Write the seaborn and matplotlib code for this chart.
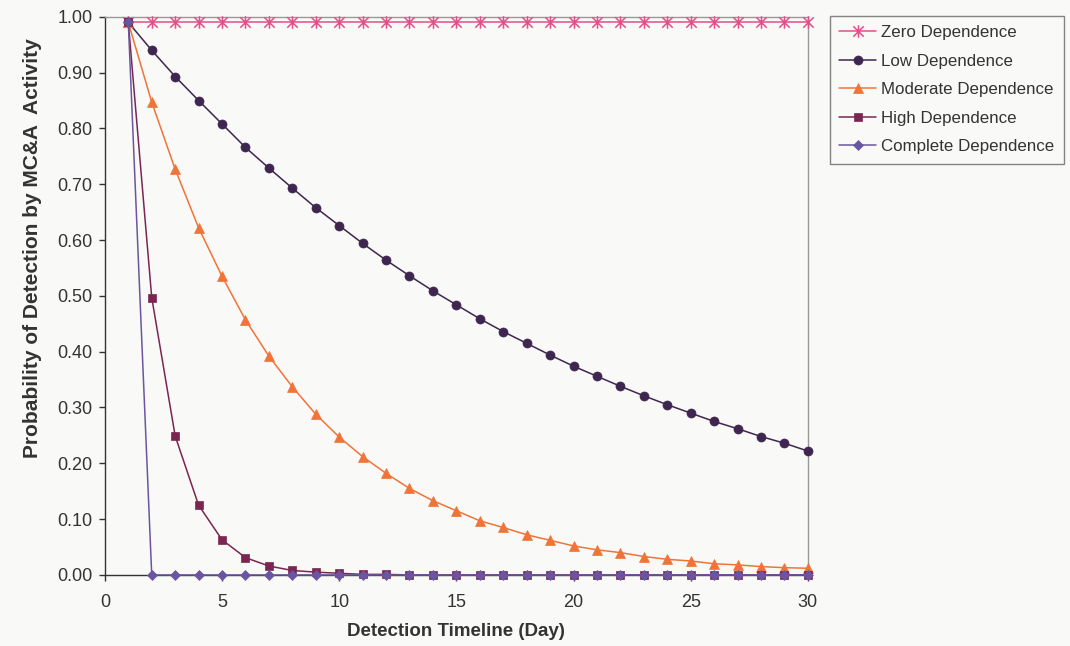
import numpy as np
import pandas as pd
import matplotlib
matplotlib.use("Agg")
import matplotlib.pyplot as plt
from matplotlib.path import Path
import seaborn as sns

days = list(range(1, 31))
zero_dep = [0.99] * 30
low_dep = [0.99, 0.940, 0.893, 0.850, 0.808, 0.766, 0.729, 0.693, 0.658, 0.626,
           0.594, 0.564, 0.536, 0.509, 0.484, 0.459, 0.436, 0.415, 0.394, 0.374,
           0.356, 0.338, 0.321, 0.305, 0.290, 0.275, 0.262, 0.248, 0.236, 0.222]
moderate_dep = [0.99, 0.847, 0.727, 0.622, 0.535, 0.457, 0.392, 0.337, 0.288, 0.247,
                0.212, 0.182, 0.155, 0.133, 0.115, 0.097, 0.085, 0.072, 0.062, 0.052,
                0.045, 0.040, 0.033, 0.028, 0.025, 0.020, 0.018, 0.015, 0.013, 0.012]
high_dep = [0.99, 0.497, 0.249, 0.125, 0.063, 0.031, 0.016, 0.008, 0.005, 0.003,
            0.001, 0.001, 0.0, 0.0, 0.0, 0.0, 0.0, 0.0, 0.0, 0.0,
            0.0, 0.0, 0.0, 0.0, 0.0, 0.0, 0.0, 0.0, 0.0, 0.0]
complete_dep = [0.99] + [0.0] * 29

series_names = ["Zero Dependence", "Low Dependence", "Moderate Dependence",
                "High Dependence", "Complete Dependence"]
series_vals = [zero_dep, low_dep, moderate_dep, high_dep, complete_dep]

x_ticks = [0, 5, 10, 15, 20, 25, 30]
y_ticks = [0.0, 0.1, 0.2, 0.3, 0.4, 0.5, 0.6, 0.7, 0.8, 0.9, 1.0]

sns.set_theme(style="white")
plt.rcParams['font.family'] = ['Liberation Sans', 'DejaVu Sans']

# Excel-like asterisk marker: X plus vertical bar
star = Path([(-1, -1), (1, 1), (-1, 1), (1, -1), (0, -1.2), (0, 1.2)],
            [Path.MOVETO, Path.LINETO, Path.MOVETO, Path.LINETO, Path.MOVETO, Path.LINETO])

styles = [
    dict(color="#e0508a", marker=star, ms=9, mew=1.1),
    dict(color="#3e2650", marker="o", ms=6.5, mew=0.5),
    dict(color="#f07438", marker="^", ms=7.5, mew=0.5),
    dict(color="#7a2650", marker="s", ms=6, mew=0.5),
    dict(color="#6a56a0", marker="D", ms=5, mew=0.5),
]

bg = "#f9f9f7"
fig = plt.figure(figsize=(10.7, 6.46), dpi=100, facecolor=bg)
ax = fig.add_axes([0.098, 0.110, 0.657, 0.864])
ax.set_facecolor(bg)

for name, vals, st in zip(series_names, series_vals, styles):
    df = pd.DataFrame({"day": days, "p": vals})
    sns.lineplot(data=df, x="day", y="p", ax=ax, label=name, color=st["color"],
                 marker=st["marker"], markersize=st["ms"], markeredgewidth=st["mew"],
                 markeredgecolor=st["color"], linewidth=1.1, clip_on=False, zorder=3)

ax.set_xlim(0, 30)
ax.set_ylim(0, 1.0)
ax.set_xticks(x_ticks)
ax.set_xticklabels([str(t) for t in x_ticks])
ax.set_yticks(y_ticks)
ax.set_yticklabels([f"{t:.2f}" for t in y_ticks])
ax.tick_params(axis="both", direction="out", length=4.5, width=1, colors="#333333",
               labelsize=13, labelcolor="#333333", bottom=True, left=True)
ax.tick_params(axis="y", pad=4.5)
ax.tick_params(axis="x", pad=9.5)

for side in ["left", "bottom"]:
    ax.spines[side].set_color("#333333")
    ax.spines[side].set_linewidth(1.0)
for side in ["top", "right"]:
    ax.spines[side].set_color("#999999")
    ax.spines[side].set_linewidth(1.0)

ax.set_xlabel("Detection Timeline (Day)", fontsize=13.5, fontweight="bold",
              color="#333333")
ax.set_ylabel("Probability of Detection by MC&A  Activity", fontsize=15,
              fontweight="bold", color="#333333")
ax.xaxis.set_label_coords(0.5, -0.087)
ax.yaxis.set_label_coords(-0.0896, 0.586)

leg = ax.legend(loc="upper left", bbox_to_anchor=(1.031, 1.002), frameon=True,
                fancybox=False, fontsize=12.2, handlelength=2.2, handletextpad=0.3,
                borderpad=0.55, labelspacing=0.8, borderaxespad=0)
leg.get_frame().set_edgecolor("#666666")
leg.get_frame().set_facecolor(bg)
leg.get_frame().set_linewidth(1.0)
for t in leg.get_texts():
    t.set_color("#333333")

fig.savefig("out.png", dpi=100, facecolor=bg)
